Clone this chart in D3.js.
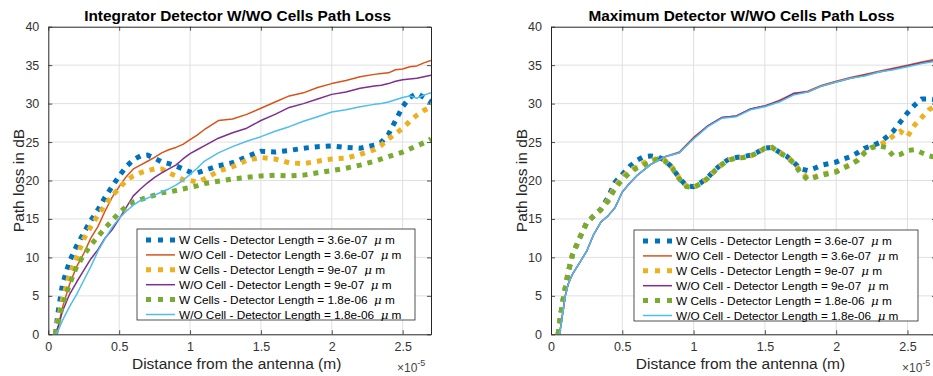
<!DOCTYPE html>
<html><head><meta charset="utf-8">
<script src="https://cdn.jsdelivr.net/npm/d3@7"></script>
<style>
body{margin:0;background:#fff;overflow:hidden}
svg{font-family:"Liberation Sans",Arial,Helvetica,sans-serif;display:block}
</style>
</head><body>
<svg id="chart" width="933" height="376"></svg>
<script>
// ---------- data (x in units of 1e-5 m, y in dB) ----------
const xTicks = [0, 0.5, 1, 1.5, 2, 2.5];
const yTicks = [0, 5, 10, 15, 20, 25, 30, 35, 40];
const xDomain = [0, 2.7];
const yDomain = [0, 40];
const panelTitles = ["Integrator Detector W/WO Cells Path Loss", "Maximum Detector W/WO Cells Path Loss"];
const xAxisLabel = "Distance from the antenna (m)";
const yAxisLabel = "Path loss in dB";
const legendLabels = [
  "W Cells - Detector Length = 3.6e-07",
  "W/O Cell - Detector Length = 3.6e-07",
  "W Cells - Detector Length = 9e-07",
  "W/O Cell - Detector Length = 9e-07",
  "W Cells - Detector Length = 1.8e-06",
  "W/O Cell - Detector Length = 1.8e-06"
];
const seriesColors = ["#0072BD", "#D95319", "#EDB120", "#7E2F8E", "#77AC30", "#4DBEEE"];
const seriesDotted = [true, false, true, false, true, false];

// Left panel (Integrator detector)
const leftX = [0.05,0.07,0.1,0.15,0.2,0.25,0.3,0.35,0.4,0.45,0.5,0.55,0.6,0.65,0.7,0.75,0.8,0.85,0.9,0.95,1.0,1.05,1.1,
  1.2,1.3,1.4,1.5,1.6,1.7,1.8,1.9,2.0,2.1,2.2,2.3,2.35,2.4,2.45,2.5,2.55,2.6,2.65,2.7];
const leftWCells36 = [0,3,6.5,9.5,11.5,13.2,14.8,16.2,17.8,19.2,20.6,21.8,22.7,23.2,23.3,22.9,22.4,22.2,21.9,21.5,21.1,21.0,21.3,
  21.9,22.3,23.1,23.8,23.7,23.9,24.2,24.4,24.5,24.3,24.2,24.6,25,26,27.8,29.6,30.8,31.3,30.8,30.2];
const leftWOCell36 = [0,1,3.5,6.5,8.8,10.5,12.5,14,16,17.8,19.2,20.5,21.5,22,22.5,23,23.6,24,24.3,24.7,25.3,25.9,26.6,
  27.8,28,28.6,29.4,30.2,31,31.4,32.1,32.6,33,33.5,33.8,33.9,34,34.4,34.5,34.8,34.9,35.3,35.6];
const leftWCells90 = [0,2,4.5,7.8,10,12.4,14,15.5,16.8,18,19,20,20.6,21,21.3,21.5,21.5,21,20.6,20.1,20,19.8,20.2,
  21.2,21.8,22.6,23,22.8,22.3,22.2,22.5,22.8,22.9,23.4,24,24.6,25.4,26.1,26.8,27.7,28.5,29.1,29.6];
const leftWOCell90 = [0,1,3,5.2,6.8,8.3,9.8,11,12.5,13.6,15,16.5,18,18.9,19.7,20.4,21,21.5,22,22.8,23.5,24,24.5,
  25.5,26.2,26.8,27.8,28.6,29.5,30,30.6,31.2,31.5,32,32.3,32.4,32.6,32.9,33.1,33.2,33.3,33.5,33.7];
const leftWCells180 = [0,1.5,3.8,6.5,8.8,10.3,11.6,12.7,13.8,14.8,15.8,16.6,17.2,17.5,17.8,18.1,18.4,18.5,18.7,18.9,19.1,19.3,19.6,
  19.9,20.2,20.4,20.6,20.7,20.6,20.7,21,21.3,21.6,22,22.5,22.8,23.1,23.4,23.7,24.1,24.5,24.9,25.4];
const leftWOCell180 = [0,0.5,1.8,3.6,5.2,7,8.8,10.8,12.4,13.9,15.1,16,16.8,17.4,17.7,18.1,18.5,18.9,19.4,20,20.8,21.6,22.5,
  23.6,24.4,25.1,25.7,26.4,27,27.7,28.3,28.9,29.2,29.6,29.9,30,30.2,30.5,30.8,31,30.7,31.1,31.4];

// Right panel (Maximum detector)
const rightDotX = [0.05,0.06,0.08,0.1,0.12,0.15,0.2,0.25,0.3,0.35,0.4,0.45,0.5,0.55,0.6,0.65,0.7,0.75,0.8,0.85,0.9,0.95,
  1.0,1.05,1.1,1.15,1.2,1.25,1.3,1.35,1.4,1.45,1.5,1.55,1.6,1.65,1.7,1.75,1.8,1.85,1.9,1.95,
  2.0,2.05,2.1,2.15,2.2,2.25,2.3,2.35,2.4,2.45,2.5,2.55,2.6,2.65,2.7];
const rightWCells36 = [0,1.5,4,6,8,10.3,12.5,14.5,15.4,16.3,17.8,19.8,20.8,21.8,22.6,23.1,23.2,23.1,22.6,21.7,20.3,19.3,
  19.2,19.7,20.4,21.4,22.2,22.8,23,23.1,23.3,23.7,24.2,24.3,23.7,23.2,22.4,21.5,21.3,21.6,22,22.2,
  22.4,22.8,23.1,23.6,24.2,24.5,24.9,25.6,26.4,27.6,28.8,29.8,30.6,30.6,30.5];
const rightWCells90 = [0,1.5,4,6,8,10.3,12.5,14.5,15.4,16.2,17.5,19.3,20.4,21.3,21.8,22.3,22.6,22.9,22.6,21.7,20.3,19.3,
  19.1,19.6,20.3,21.3,22.1,22.7,22.9,23,23.2,23.6,24.2,24.3,23.7,23.2,22.4,21.2,20.3,20.5,20.8,21,
  21.2,21.7,22.1,22.7,23.7,24.3,24.6,25.1,25.8,26.4,25.7,27.2,28.2,29.2,29.7];
const rightWCells180 = [0,1.5,4,6,8,10.3,12.5,14.5,15.4,16.2,17.3,19,20.1,21,21.6,22,22.4,22.8,22.5,21.6,20.2,19.2,
  19.1,19.6,20.3,21.3,22.1,22.7,22.9,23,23.2,23.6,24.2,24.3,23.6,23.1,22.3,21,20.1,20.4,20.7,20.9,
  21.1,21.6,22,22.6,23.6,24.3,24.5,24.3,23.2,23.4,23.9,24,23.6,23.2,23.0];
const rightSolidX = [0.06,0.08,0.1,0.12,0.15,0.2,0.25,0.3,0.35,0.4,0.45,0.5,0.55,0.6,0.7,0.8,0.9,1.0,1.1,1.2,1.3,1.4,1.5,
  1.6,1.7,1.8,1.9,2.0,2.1,2.2,2.3,2.4,2.5,2.6,2.7];
const rightWOCell36 = [0,2.5,5,6.5,7.8,9.3,10.8,13,14.6,15.4,16.5,18.5,19.6,20.6,22.1,23.1,23.7,25.6,27.1,28.2,28.4,29.3,29.7,
  30.4,31.3,31.6,32.4,32.9,33.4,33.8,34.2,34.6,35,35.4,35.8];
const rightWOCell90 = [0,2.5,5,6.5,7.8,9.3,10.8,13,14.6,15.4,16.5,18.5,19.6,20.6,22.1,23.1,23.6,25.5,27.1,28.2,28.4,29.3,29.7,
  30.3,31.3,31.5,32.3,32.8,33.3,33.7,34.1,34.5,34.9,35.3,35.6];
const rightWOCell180 = [0,2.5,5,6.5,7.8,9.3,10.8,13,14.6,15.4,16.5,18.5,19.6,20.6,22.1,23.1,23.6,25.4,27,28.1,28.3,29.2,29.6,
  30.2,31.1,31.5,32.3,32.8,33.3,33.6,34.1,34.4,34.8,35.2,35.5];

// ---------- build ----------
const leftSeries = [
  [leftX, leftWCells36], [leftX, leftWOCell36], [leftX, leftWCells90],
  [leftX, leftWOCell90], [leftX, leftWCells180], [leftX, leftWOCell180]
];
const rightSeries = [
  [rightDotX, rightWCells36], [rightSolidX, rightWOCell36], [rightDotX, rightWCells90],
  [rightSolidX, rightWOCell90], [rightDotX, rightWCells180], [rightSolidX, rightWOCell180]
];

const svg = d3.select("#chart");
const axisColor = "#262626";
const gridColor = "#e0e0e0";

function drawPanel(cfg, series, title, idx) {
  const x = d3.scaleLinear().domain(xDomain).range([cfg.left, cfg.right]);
  const y = d3.scaleLinear().domain(yDomain).range([cfg.bottom, cfg.top]);
  const g = svg.append("g");

  // grid
  g.append("g").selectAll("line").data(xTicks.filter(t => t > 0)).join("line")
    .attr("x1", d => x(d)).attr("x2", d => x(d)).attr("y1", cfg.top).attr("y2", cfg.bottom)
    .attr("stroke", gridColor).attr("stroke-width", 1);
  g.append("g").selectAll("line").data(yTicks.filter(t => t > 0 && t < 40)).join("line")
    .attr("y1", d => y(d)).attr("y2", d => y(d)).attr("x1", cfg.left).attr("x2", cfg.right)
    .attr("stroke", gridColor).attr("stroke-width", 1);

  // clip
  const clipId = "clip" + idx;
  svg.append("clipPath").attr("id", clipId).append("rect")
    .attr("x", cfg.left).attr("y", cfg.top).attr("width", cfg.right - cfg.left).attr("height", cfg.bottom - cfg.top);

  const line = d3.line().x(d => x(d[0])).y(d => y(d[1]));
  const lg = g.append("g").attr("clip-path", `url(#${clipId})`);
  series.forEach((s, i) => {
    const pts = s[0].map((xv, j) => [xv, s[1][j]]);
    const p = lg.append("path").datum(pts).attr("d", line)
      .attr("fill", "none").attr("stroke", seriesColors[i]);
    if (seriesDotted[i]) {
      p.attr("stroke-width", 5).attr("stroke-dasharray", "5,6").attr("stroke-linecap", "butt");
    } else {
      p.attr("stroke-width", 1.5).attr("stroke-linejoin", "round");
    }
  });

  // axes with inward ticks
  const xAxisB = d3.axisBottom(x).tickValues(xTicks).tickSizeInner(-4).tickSizeOuter(0).tickPadding(8).tickFormat(d3.format("~g"));
  const xAxisT = d3.axisTop(x).tickValues(xTicks).tickSizeInner(-4).tickSizeOuter(0).tickFormat("");
  const yAxisL = d3.axisLeft(y).tickValues(yTicks).tickSizeInner(-4).tickSizeOuter(0).tickPadding(9);
  const yAxisR = d3.axisRight(y).tickValues(yTicks).tickSizeInner(-4).tickSizeOuter(0).tickFormat("");
  const axes = [
    [xAxisB, `translate(0,${cfg.bottom})`],
    [xAxisT, `translate(0,${cfg.top})`],
    [yAxisL, `translate(${cfg.left},0)`],
    [yAxisR, `translate(${cfg.right},0)`]
  ];
  axes.forEach(([ax, tr]) => {
    const a = g.append("g").attr("transform", tr).call(ax);
    a.select(".domain").attr("stroke", axisColor).attr("stroke-width", 1);
    a.selectAll(".tick line").attr("stroke", axisColor).attr("stroke-width", 0.8);
    a.selectAll(".tick text").attr("fill", "#333").attr("font-size", 12.5)
      .attr("font-family", '"Liberation Sans",Arial,sans-serif');
  });

  // title
  g.append("text").attr("x", (cfg.left + cfg.right) / 2 - 2).attr("y", 21)
    .attr("text-anchor", "middle").attr("font-weight", "bold").attr("font-size", 15.4)
    .attr("fill", "#000").text(title);
  // x label
  g.append("text").attr("x", (cfg.left + cfg.right) / 2 - 3).attr("y", 369)
    .attr("text-anchor", "middle").attr("font-size", 15.5).attr("fill", "#262626").text(xAxisLabel);
  // y label
  g.append("text").attr("transform", `translate(${cfg.left - 24},${(cfg.top + cfg.bottom) / 2}) rotate(-90)`)
    .attr("text-anchor", "middle").attr("font-size", 15.5).attr("fill", "#262626").text(yAxisLabel);
  // exponent
  const ex = g.append("text").attr("x", cfg.right - 34).attr("y", 372).attr("font-size", 12).attr("fill", "#444");
  ex.append("tspan").text("\u00d710");
  ex.append("tspan").attr("dy", -6).attr("font-size", 9).text("-5");

  // legend
  const L = cfg.legend;
  const leg = g.append("g");
  leg.append("rect").attr("x", L.x).attr("y", L.y).attr("width", L.w).attr("height", L.h)
    .attr("fill", "#fff").attr("stroke", axisColor).attr("stroke-width", 0.8);
  legendLabels.forEach((lab, i) => {
    const cy = L.y + 11 + i * 14.9;
    const ln = leg.append("line").attr("x1", L.x + 9).attr("x2", L.x + 38).attr("y1", cy).attr("y2", cy)
      .attr("stroke", seriesColors[i]);
    if (seriesDotted[i]) ln.attr("stroke-width", 5).attr("stroke-dasharray", "5,7");
    else ln.attr("stroke-width", 1.5);
    const t = leg.append("text").attr("x", L.x + 42).attr("y", cy + 4.3).attr("font-size", 11.8)
      .attr("fill", "#000").style("white-space", "pre");
    t.append("tspan").text(lab + "  ");
    t.append("tspan").attr("font-family", '"DejaVu Serif","Liberation Serif",serif').attr("font-style", "italic").text("\u03bc");
    t.append("tspan").text(" m");
  });
}

drawPanel({left: 48.3, right: 431, top: 26.7, bottom: 334.3, legend: {x: 137, y: 229, w: 278, h: 91}},
  leftSeries, panelTitles[0], 0);
drawPanel({left: 551, right: 936, top: 26.7, bottom: 334.3, legend: {x: 634, y: 230, w: 284, h: 91}},
  rightSeries, panelTitles[1], 1);
</script>
</body></html>
